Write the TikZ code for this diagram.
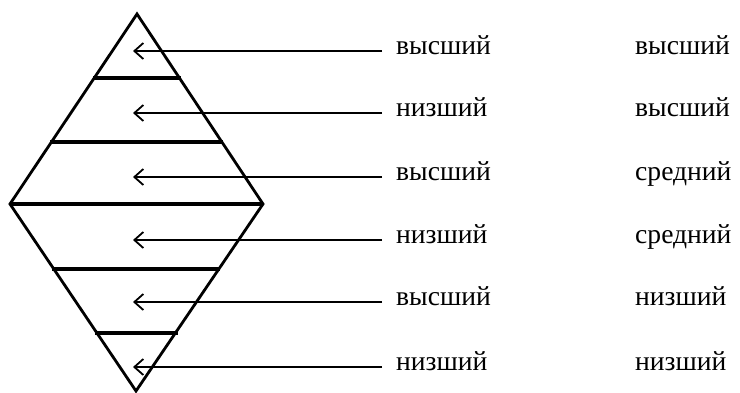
\documentclass[tikz,border=0pt]{standalone}
\usepackage{fontspec}
\setmainfont{Liberation Serif}
\usetikzlibrary{arrows.meta}
\begin{document}
\begin{tikzpicture}[x=1pt,y=-1pt,
  edge/.style={line width=2.8pt, line join=miter},
  level/.style={line width=3.3pt},
  pointer/.style={line width=1.8pt, -{Straight Barb[length=9pt,width=16pt]}},
  lab/.style={font=\fontsize{27.6}{28}\selectfont, inner xsep=0pt, inner ysep=0pt,
              text height=1ex, text depth=0pt, anchor=west}]
\useasboundingbox (0,0) rectangle (740,392);
% diamond vertices
\coordinate (T) at (137,14);
\coordinate (R) at (263,204);
\coordinate (B) at (136,391);
\coordinate (L) at (10,204);
\draw[edge] (T) -- (R) -- (B) -- (L) -- cycle;
% horizontal levels
\coordinate (h1l) at (93,78);  \coordinate (h1r) at (181,78);
\coordinate (h2l) at (50,142); \coordinate (h2r) at (223,142);
\coordinate (h4l) at (52,269); \coordinate (h4r) at (220,269);
\coordinate (h5l) at (95,333); \coordinate (h5r) at (178,333);
\draw[level] (h1l) -- (h1r);
\draw[level] (h2l) -- (h2r);
\draw[level] (L) -- (R);
\draw[level] (h4l) -- (h4r);
\draw[level] (h5l) -- (h5r);
% labels, first column
\node[lab] (a1) at (396,52)  {высший};
\node[lab] (a2) at (396,114) {низший};
\node[lab] (a3) at (396,178) {высший};
\node[lab] (a4) at (396,241) {низший};
\node[lab] (a5) at (396,303) {высший};
\node[lab] (a6) at (396,368) {низший};
% labels, second column
\node[lab] (b1) at (635,52)  {высший};
\node[lab] (b2) at (635,114) {высший};
\node[lab] (b3) at (635,178) {средний};
\node[lab] (b4) at (635,241) {средний};
\node[lab] (b5) at (635,303) {низший};
\node[lab] (b6) at (635,368) {низший};
% arrow tips
\coordinate (t1) at (133,51);
\coordinate (t2) at (133,113);
\coordinate (t3) at (133,177);
\coordinate (t4) at (133,240);
\coordinate (t5) at (133,302);
\coordinate (t6) at (133,367);
\foreach \i in {1,...,6}
  \draw[pointer] ([xshift=-14pt,yshift=1pt]a\i.west) -- (t\i);
\end{tikzpicture}
\end{document}
